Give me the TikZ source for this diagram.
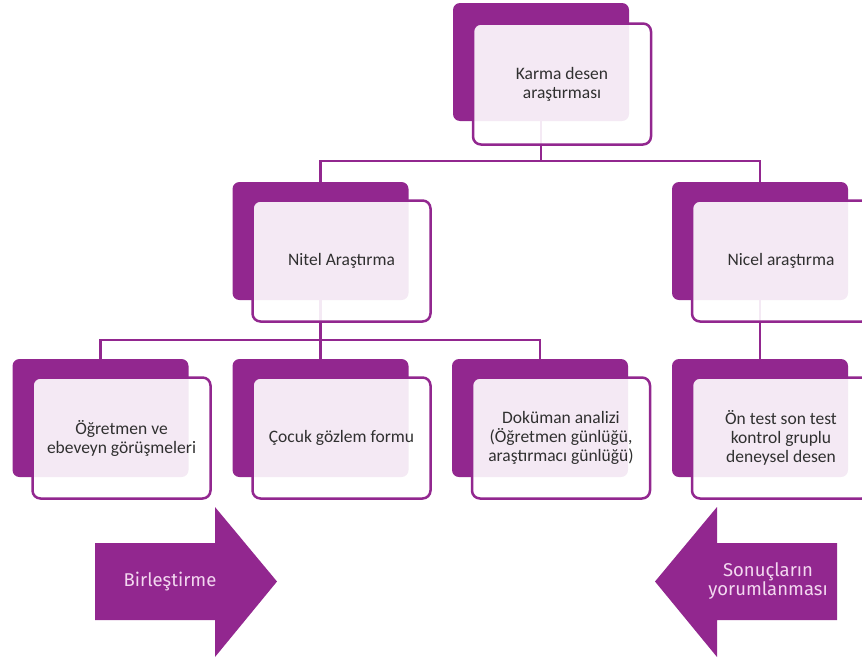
\documentclass[tikz,border=0pt]{standalone}
\usepackage{fontspec}
\setmainfont{Carlito}
\newfontfamily\arrowfont{Fira Sans}
\definecolor{purp}{HTML}{92278F}
\definecolor{txtgray}{HTML}{303030}
\definecolor{arrtxt}{HTML}{F3D8F0}
\begin{document}
\begin{tikzpicture}[x=1pt, y=-1pt]

\tikzstyle{back}=[fill=purp, rounded corners=7pt, minimum width=176pt, minimum height=118pt, inner sep=0pt];
\tikzstyle{front}=[draw=purp, line width=2.5pt, fill=white, fill opacity=0.9, text opacity=1, rounded corners=8pt, minimum width=178pt, minimum height=121pt, align=center, text=txtgray, font=\fontsize{17.5}{19}\selectfont];
\tikzstyle{conn}=[draw=purp, line width=2.5pt];
\tikzstyle{bigarrow}=[fill=purp];
\tikzstyle{arrlabel}=[text=arrtxt, align=center, font=\arrowfont\fontsize{18.5}{18}\selectfont];

\useasboundingbox (0,0) rectangle (862,659);

% back plates
\node[back] (karmaB) at (541, 62) {};
\node[back] (nitelB) at (320.5, 241) {};
\node[back] (nicelB) at (760, 241) {};
\node[back] (ogretmenB) at (100.5, 418) {};
\node[back] (cocukB) at (320.5, 418) {};
\node[back] (dokumanB) at (540, 418) {};
\node[back] (ontestB) at (760, 418) {};

% connectors
\coordinate (bus1) at (541, 161);
\coordinate (bus2) at (320.5, 340);
\draw[conn] (karmaB.south) -- (bus1);
\draw[conn] (nitelB.north) |- (bus1) -| (nicelB.north);
\draw[conn] (nitelB.south) -- (bus2);
\draw[conn] (ogretmenB.north) |- (bus2) -| (dokumanB.north);
\draw[conn] (cocukB.north) -- (bus2);
\draw[conn] (nicelB.south) -- (ontestB.north);

% front boxes
\node[front] (karma) at (562, 84) {Karma desen\\araştırması};
\node[front] (nitel) at (341.5, 261) {Nitel Araştırma};
\node[front] (nicel) at (781, 261) {Nicel araştırma};
\node[front] (ogretmen) at (121.5, 438) {Öğretmen ve\\ebeveyn görüşmeleri};
\node[front] (cocuk) at (341.5, 438) {Çocuk gözlem formu};
\node[front] (dokuman) at (561, 438) {Doküman analizi\\(Öğretmen günlüğü,\\araştırmacı günlüğü)};
\node[front] (ontest) at (781, 438) {Ön test son test\\kontrol gruplu\\deneysel desen};

% side arrows
\fill[bigarrow] (95,543) -- (215,543) -- (215,507) -- (277,581.5) -- (215,657) -- (215,620) -- (95,620) -- cycle;
\node[arrlabel] (birlestirme) at (170, 582) {Birleştirme};

\fill[bigarrow] (837,543) -- (717,543) -- (717,507) -- (655,581.5) -- (717,657) -- (717,620) -- (837,620) -- cycle;
\node[arrlabel] (sonuc) at (768, 581) {Sonuçların\\yorumlanması};

\end{tikzpicture}
\end{document}
